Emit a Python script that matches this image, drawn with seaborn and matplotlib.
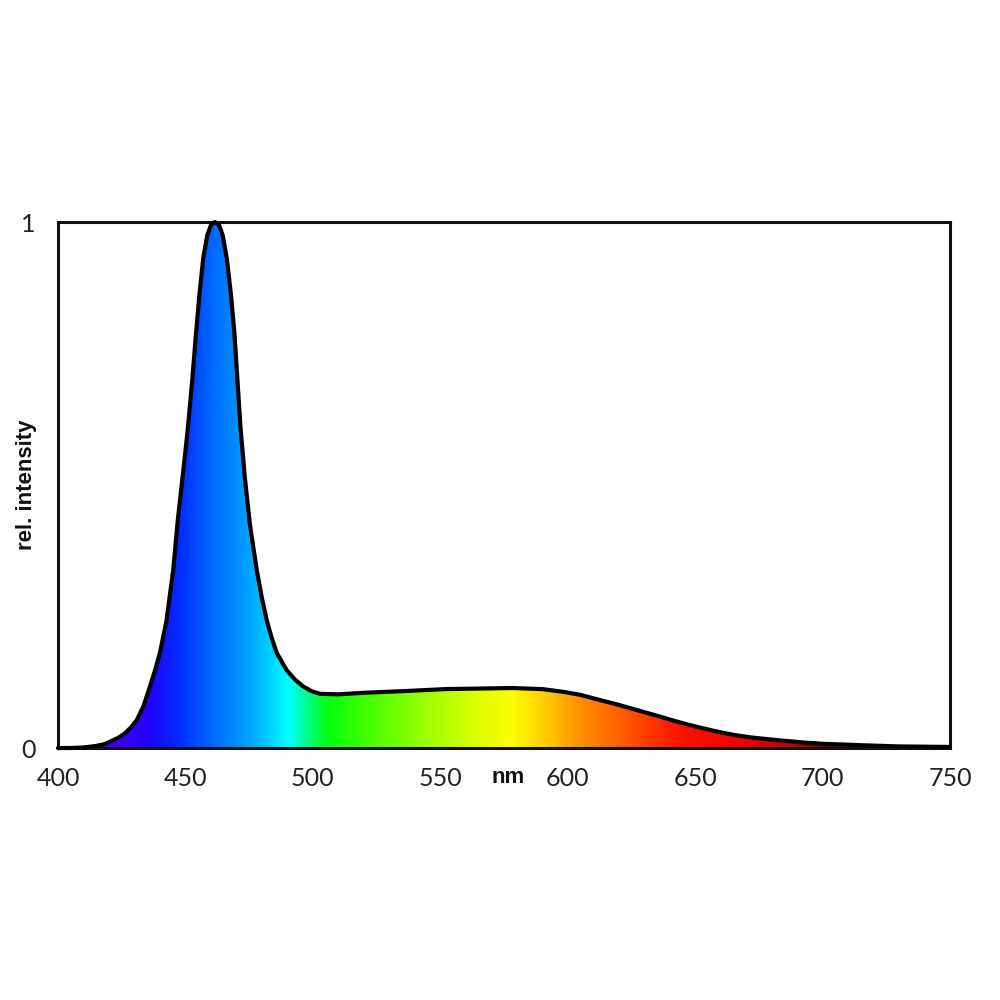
import numpy as np
import pandas as pd
import matplotlib
matplotlib.use("Agg")
import matplotlib.pyplot as plt
import seaborn as sns
from matplotlib.colors import LinearSegmentedColormap

# ---- data ----
wavelength_nm = [400, 405, 410, 415, 418, 420.4, 423.5, 426.3, 428.8, 430.9, 433.5,
                 436.1, 438.1, 440.0, 442.6, 445.2, 447.0, 449.0, 450.9, 452.6,
                 454.1, 455.5, 457.0, 458.6, 460.0, 461.6, 463.2, 464.6, 466.2,
                 467.8, 469.2, 470.4, 471.6, 473.4, 475.3, 478.0, 480.0, 481.9,
                 483.8, 485.8, 489.7, 493.0, 496.2, 499.5, 502.8, 510, 520, 535,
                 552, 565, 578, 590, 598, 605, 612, 620, 628, 636, 643, 650, 657,
                 665, 672, 680, 691, 700, 717, 730, 750]
rel_intensity = [0.0, 0.0, 0.001, 0.004, 0.007, 0.012, 0.019, 0.028, 0.04, 0.053,
                 0.079, 0.117, 0.148, 0.181, 0.243, 0.338, 0.433, 0.52, 0.605, 0.695,
                 0.785, 0.862, 0.932, 0.975, 0.994, 1.0, 0.994, 0.975, 0.932, 0.865,
                 0.79, 0.70, 0.61, 0.51, 0.425, 0.338, 0.285, 0.243, 0.21, 0.181,
                 0.148, 0.13, 0.117, 0.108, 0.103, 0.102, 0.105, 0.108, 0.112, 0.113,
                 0.114, 0.112, 0.107, 0.101, 0.092, 0.082, 0.071, 0.06, 0.05,
                 0.041, 0.033, 0.025, 0.02, 0.016, 0.011, 0.008, 0.005, 0.003, 0.002]

x_ticks = [400, 450, 500, 550, 600, 650, 700, 750]
y_ticks = [0, 1]
y_tick_labels = ["0", "1"]

spectrum_nm = [400, 425, 435, 448, 460, 470, 480, 490, 505, 520, 545, 565, 578,
               590, 605, 625, 645, 670, 690, 705, 750]
spectrum_colors = ["#4000ff", "#3a00ff", "#2000ff", "#0030ff", "#0068ff", "#0090ff",
                   "#00c0ff", "#00ffff", "#00ff10", "#40ff00", "#a0ff00", "#e0ff00",
                   "#ffff00", "#ffd000", "#ff9000", "#ff5000", "#ff1000", "#f00000",
                   "#c00000", "#700000", "#300000"]

# ---- style ----
sns.set_style("white")
plt.rcParams['font.family'] = ['Lato', 'DejaVu Sans']

fig = plt.figure(figsize=(10, 10), dpi=100)
ax = fig.add_axes([0.058, 0.252, 0.892, 0.526])

df = pd.DataFrame({"nm": wavelength_nm, "intensity": rel_intensity})

# fill region used as clip path for the spectral gradient
fill = ax.fill_between(df["nm"], 0, df["intensity"], facecolor="none",
                       edgecolor="none")

lo, hi = spectrum_nm[0], spectrum_nm[-1]
positions = [(w - lo) / (hi - lo) for w in spectrum_nm]
cmap = LinearSegmentedColormap.from_list("spectrum",
                                         list(zip(positions, spectrum_colors)))
grad = np.linspace(0, 1, 1200)[None, :]
im = ax.imshow(grad, extent=[lo, hi, 0, 1], aspect="auto", cmap=cmap,
               origin="lower", zorder=1, interpolation="bilinear")
im.set_clip_path(fill.get_paths()[0], transform=ax.transData)

sns.lineplot(data=df, x="nm", y="intensity", color="black", linewidth=3,
             ax=ax, zorder=3, clip_on=False)
ax.lines[-1].set_solid_joinstyle("round")

ax.set_xlim(400, 750)
ax.set_ylim(0, 1)
ax.set_xticks(x_ticks)
ax.set_xticklabels([str(t) for t in x_ticks])
ax.set_yticks(y_ticks)
ax.set_yticklabels(y_tick_labels)
ax.tick_params(axis="x", length=0, pad=14, labelsize=18, colors="#222222")
ax.tick_params(axis="y", length=0, pad=16, labelsize=18, colors="#222222")

for s in ax.spines.values():
    s.set_linewidth(2.2)
    s.set_color("#111111")
    s.set_visible(True)

ax.set_xlabel("")
ax.set_ylabel("rel. intensity", fontsize=16, fontweight="bold",
              family=["Liberation Sans", "DejaVu Sans"], color="#111111")
ax.yaxis.set_label_coords(-0.024, 0.5)

ax.text(0.5045, -0.057, "nm", transform=ax.transAxes, ha="center", va="center",
        fontsize=16, fontweight="bold", family=["Liberation Sans", "DejaVu Sans"],
        color="#111111")

fig.savefig("out.png", dpi=100, facecolor="white")
